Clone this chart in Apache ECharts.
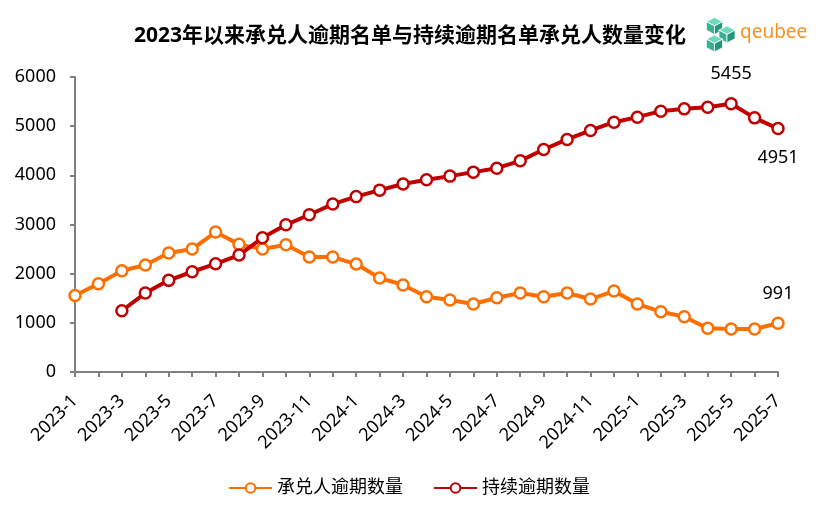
<!DOCTYPE html>
<html><head><meta charset="utf-8">
<script src="https://cdn.jsdelivr.net/npm/echarts@6/dist/echarts.min.js"></script>
<style>html,body{margin:0;padding:0;background:#fff}#c{width:818px;height:519px}</style>
</head><body><div id="c"></div>
<script>
const categories = ['2023-1','2023-2','2023-3','2023-4','2023-5','2023-6','2023-7','2023-8','2023-9','2023-10','2023-11','2023-12',
 '2024-1','2024-2','2024-3','2024-4','2024-5','2024-6','2024-7','2024-8','2024-9','2024-10','2024-11','2024-12',
 '2025-1','2025-2','2025-3','2025-4','2025-5','2025-6','2025-7'];
const acceptorOverdue = [1555,1795,2059,2175,2419,2500,2846,2596,2500,2587,2337,2337,2195,1911,1771,1530,1463,1382,1510,1606,1530,1606,1484,1646,1382,1226,1124,888,874,874,991];
const continuousOverdue = [null,null,1246,1606,1864,2039,2201,2378,2730,2994,3198,3415,3567,3699,3824,3909,3984,4065,4146,4295,4526,4730,4913,5081,5183,5305,5352,5386,5455,5169,4951];
const labeledOrange = {30: 'top'};
const labeledRed = {28: 'top', 30: 'bottom'};
const yTicks = [0,1000,2000,3000,4000,5000,6000];

const FONT = '"Noto Sans","Noto Sans CJK SC",sans-serif';
function withLabels(arr, map){
  return arr.map((v,i)=> map[i] ? {value:v, label:{show:true, position:map[i], distance:14, fontSize:18, color:'#000', fontFamily:FONT}} : v);
}
const chart = echarts.init(document.getElementById('c'));
const orange = '#FF6F00', red = '#C00000';
function cube(cx, cy, s){
  const w = s*0.95;
  const st = {stroke:'#ffffff', lineWidth:0.8};
  return [
    {type:'polygon', shape:{points:[[cx,cy-s],[cx+w,cy-s*0.5],[cx,cy],[cx-w,cy-s*0.5]]}, style:Object.assign({fill:'#6FD9BC'},st)},
    {type:'polygon', shape:{points:[[cx-w,cy-s*0.5],[cx,cy],[cx,cy+s],[cx-w,cy+s*0.5]]}, style:Object.assign({fill:'#35B394'},st)},
    {type:'polygon', shape:{points:[[cx,cy],[cx+w,cy-s*0.5],[cx+w,cy+s*0.5],[cx,cy+s]]}, style:Object.assign({fill:'#23977C'},st)}
  ];
}
chart.setOption({
  animation:false,
  title:{text:'2023年以来承兑人逾期名单与持续逾期名单承兑人数量变化', left:405, top:21, textAlign:'center',
    textStyle:{fontSize:21, fontWeight:'bold', color:'#000', fontFamily:FONT}},
  graphic:[
    {type:'group', left:706, top:17, children:[].concat(cube(8.5,8.5,8.5), cube(21,17,8.5), cube(8.5,26,8.5))},
    {type:'text', left:740, top:23, style:{text:'qeubee', fontSize:19, fill:'#F7931E', fontFamily:'"Noto Sans",sans-serif'}}
  ],
  legend:{bottom:17, left:'center', itemWidth:43, itemHeight:12, itemGap:30,
    textStyle:{fontSize:18, color:'#000', fontFamily:FONT},
    data:['承兑人逾期数量','持续逾期数量']},
  grid:{left:75, right:40, top:77, bottom:147, containLabel:false},
  xAxis:{type:'category', data:categories, boundaryGap:false,
    axisLine:{lineStyle:{color:'#808080', width:2}},
    axisTick:{show:true, interval:0, length:5, lineStyle:{color:'#808080', width:2}},
    axisLabel:{interval:1, rotate:45, fontSize:18, color:'#000', margin:26, fontFamily:FONT},
    splitLine:{show:false}},
  yAxis:{type:'value', min:0, max:6000, interval:1000,
    axisLine:{show:true, lineStyle:{color:'#808080', width:2}},
    axisTick:{show:true, length:5, lineStyle:{color:'#808080', width:2}},
    axisLabel:{fontSize:18, color:'#000', margin:19, fontFamily:FONT, formatter:v=>yTicks.includes(v)?String(v):''},
    splitLine:{show:false}},
  series:[
    {name:'承兑人逾期数量', type:'line', data:withLabels(acceptorOverdue, labeledOrange),
     symbol:'circle', symbolSize:11, showAllSymbol:true,
     lineStyle:{color:orange, width:4}, itemStyle:{color:'#fff', borderColor:orange, borderWidth:2.5}},
    {name:'持续逾期数量', type:'line', data:withLabels(continuousOverdue, labeledRed),
     symbol:'circle', symbolSize:11, showAllSymbol:true, connectNulls:false,
     lineStyle:{color:red, width:4}, itemStyle:{color:'#fff', borderColor:red, borderWidth:2.5}}
  ]
});
</script></body></html>
